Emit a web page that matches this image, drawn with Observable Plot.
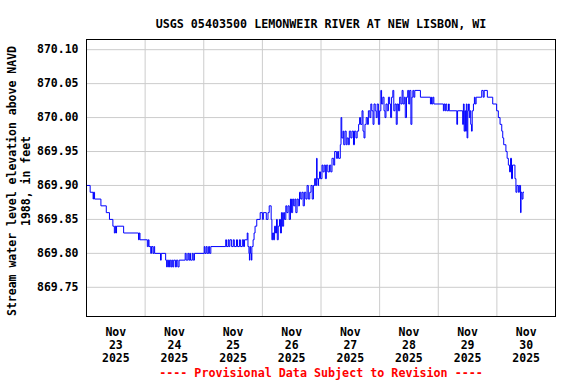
<!DOCTYPE html>
<html><head><meta charset="utf-8">
<script src="https://cdn.jsdelivr.net/npm/d3@7"></script>
<script src="https://cdn.jsdelivr.net/npm/@observablehq/plot@0.6"></script>
<style>body{margin:0;background:#fff}</style>
</head><body><div id="chart"></div>
<script>
const title = "USGS 05403500 LEMONWEIR RIVER AT NEW LISBON, WI";
const yLabel = "Stream water level elevation above NAVD\n1988, in feet";
const caption = "---- Provisional Data Subject to Revision ----";
const monthLabel = "Nov";
const yearLabel = "2025";
const dayLabels = ["23", "24", "25", "26", "27", "28", "29", "30"];
const startUTC = Date.UTC(2025, 10, 23);
const yTicks = [869.75, 869.80, 869.85, 869.90, 869.95, 870.00, 870.05, 870.10];
const yDomain = [869.707, 870.115];

// [hours since Nov 23 00:00, stage in feet]
const readings = [
[0,869.90],[1.5,869.89],[2.7,869.88],[2.9,869.89],[3.3,869.88],[5.9,869.87],[8.1,869.86],[9.4,869.85],
[10.8,869.84],[11.4,869.83],[11.8,869.84],[12.1,869.83],[12.3,869.84],[15.2,869.83],[21.3,869.82],[21.6,869.83],
[21.9,869.82],[24.9,869.81],[25.3,869.82],[25.6,869.81],[26.3,869.80],[26.6,869.81],[27.2,869.80],[27.6,869.81],
[27.9,869.80],[30.3,869.79],[30.6,869.80],[32.4,869.79],[32.8,869.78],[33.1,869.79],[33.6,869.78],[34.0,869.79],
[34.5,869.78],[34.9,869.79],[35.3,869.78],[35.7,869.79],[36.4,869.78],[36.8,869.79],[37.4,869.78],[37.9,869.79],
[40.4,869.80],[40.8,869.79],[41.5,869.80],[41.9,869.79],[42.3,869.80],[42.6,869.79],[43.3,869.80],[43.7,869.79],
[44.2,869.80],[48.2,869.81],[48.5,869.80],[49.0,869.81],[49.4,869.80],[50.0,869.81],[50.4,869.80],[50.9,869.81],
[57.0,869.82],[57.3,869.81],[58.0,869.82],[58.3,869.81],[58.7,869.82],[59.4,869.81],[60.1,869.82],[60.5,869.81],
[61.4,869.82],[61.8,869.81],[62.6,869.82],[63.0,869.81],[63.8,869.82],[64.3,869.81],[64.7,869.82],[65.8,869.83],
[66.1,869.81],[66.5,869.80],[66.7,869.79],[66.9,869.81],[67.2,869.80],[67.5,869.79],[67.7,869.81],[68.2,869.82],
[68.6,869.83],[69.0,869.84],[69.7,869.85],[71.1,869.86],[72.0,869.85],[72.4,869.86],[73.6,869.85],[74.3,869.86],
[74.8,869.87],[75.6,869.85],[75.9,869.82],[76.2,869.83],[76.6,869.82],[77.0,869.84],[77.4,869.83],[77.8,869.85],
[78.1,869.82],[78.5,869.84],[79.0,869.85],[79.4,869.83],[79.8,869.86],[80.2,869.84],[80.7,869.86],[81.1,869.85],
[81.6,869.87],[82.0,869.86],[82.5,869.87],[83.0,869.85],[83.5,869.88],[83.9,869.86],[84.4,869.88],[84.8,869.87],
[85.3,869.88],[85.7,869.86],[86.2,869.88],[86.7,869.87],[87.2,869.89],[87.7,869.88],[88.2,869.89],[88.7,869.87],
[89.2,869.89],[89.8,869.88],[90.3,869.90],[90.8,869.88],[91.4,869.89],[91.9,869.90],[92.4,869.88],[92.9,869.90],
[93.4,869.91],[93.8,869.90],[94.2,869.94],[94.4,869.91],[94.8,869.90],[95.0,869.91],[95.4,869.92],[95.8,869.91],
[96.4,869.93],[96.8,869.92],[97.3,869.93],[97.8,869.91],[98.2,869.93],[98.8,869.92],[99.5,869.93],[100.0,869.92],
[100.5,869.94],[101.2,869.93],[101.6,869.95],[102.3,869.94],[102.8,869.95],[103.2,869.94],[103.9,869.96],[104.2,870.00],
[104.5,869.97],[105.0,869.98],[105.3,869.96],[105.8,869.98],[106.3,869.96],[106.7,869.97],[107.2,869.96],[107.6,869.98],
[108.2,869.97],[108.7,869.98],[109.3,869.96],[109.7,869.98],[110.3,869.97],[110.8,869.98],[111.4,869.99],[111.8,870.00],
[112.2,869.99],[112.8,870.01],[113.2,869.98],[113.6,869.97],[114.0,869.99],[114.5,870.00],[115.0,869.99],[115.4,870.01],
[116.0,870.00],[116.4,870.02],[116.8,870.01],[117.3,869.99],[117.7,870.02],[118.2,870.01],[118.6,870.00],[119.0,870.02],
[119.5,869.99],[120.0,870.01],[120.5,870.04],[120.8,870.02],[121.3,870.03],[121.8,870.01],[122.2,870.00],[122.6,870.02],
[123.1,870.01],[123.6,870.03],[124.1,870.02],[124.5,870.00],[124.9,870.03],[125.4,870.04],[125.8,870.01],[126.3,870.02],
[126.8,869.99],[127.2,870.02],[127.7,870.01],[128.2,870.03],[128.7,870.02],[129.2,870.04],[129.6,870.02],[130.1,870.03],
[130.5,870.00],[131.0,870.03],[131.5,870.04],[131.9,870.02],[132.3,870.04],[132.8,869.99],[133.2,870.03],[133.6,870.04],
[134.0,870.03],[134.4,870.04],[136.7,870.03],[140.8,870.02],[141.2,870.03],[141.4,870.02],[141.8,870.03],[142.2,870.02],
[146.1,870.01],[146.4,870.02],[146.8,870.01],[147.1,870.02],[147.5,870.01],[148.2,870.02],[148.5,870.01],[151.6,869.99],
[151.9,870.01],[154.0,869.99],[154.3,870.02],[154.6,869.98],[154.9,870.01],[155.2,869.98],[155.5,870.02],[155.8,869.97],
[156.1,870.01],[156.4,870.02],[156.7,870.00],[157.0,870.01],[157.3,869.99],[157.6,869.98],[157.9,870.01],[158.4,870.02],
[158.8,870.03],[159.1,870.02],[159.5,870.03],[161.8,870.04],[162.4,870.03],[162.8,870.04],[164.1,870.03],[166.3,870.02],
[167.9,870.01],[168.6,870.00],[169.3,869.99],[170.0,869.98],[170.4,869.97],[170.8,869.96],[171.7,869.95],[172.2,869.94],
[172.7,869.93],[173.2,869.92],[173.6,869.94],[174.0,869.91],[174.4,869.93],[175.4,869.91],[175.8,869.89],[176.2,869.90],
[176.8,869.89],[177.2,869.90],[177.7,869.86],[177.9,869.89],[178.3,869.88],[178.7,869.89],[179.1,869.89]
];

const HOUR = 3600e3, DAY = 24 * HOUR;
const data = readings.map(([h, v]) => ({t: new Date(startUTC + h * HOUR), v}));
const dayStarts = d3.range(1, 8).map(i => new Date(startUTC + i * DAY));
const noonTicks = dayLabels.map((_, i) => new Date(startUTC + i * DAY + 12 * HOUR));
const xDomain = [new Date(startUTC), new Date(startUTC + 8 * DAY)];
const font = "DejaVu Sans Mono";

const chart = Plot.plot({
  width: 576, height: 384,
  marginLeft: 86, marginRight: 21, marginTop: 39, marginBottom: 68,
  style: {fontFamily: font, fontSize: "11.5px", fontWeight: "bold", background: "white", color: "black"},
  x: {type: "utc", domain: xDomain},
  y: {domain: yDomain},
  marks: [
    Plot.gridX(dayStarts, {stroke: "#cccccc", strokeOpacity: 1}),
    Plot.gridY(yTicks, {stroke: "#cccccc", strokeOpacity: 1}),
    Plot.line(data, {x: "t", y: "v", stroke: "#0000ff", strokeWidth: 1, curve: "step-after"}),
    Plot.frame({stroke: "black"}),
    Plot.axisY(yTicks, {tickSize: 0, tickPadding: 8, tickFormat: d3.format(".2f"), label: null, fontSize: 11.5}),
    Plot.axisX(noonTicks, {tickSize: 0, tickPadding: 10, label: null, fontSize: 11.5, lineHeight: 1.13,
      tickFormat: (d, i) => `${monthLabel}\n${dayLabels[i]}\n${yearLabel}`}),
    Plot.text([title], {frameAnchor: "top", dy: -20, fontSize: 11.7, fill: "black"}),
    Plot.text([yLabel], {frameAnchor: "left", textAnchor: "middle", lineAnchor: "middle", rotate: -90, dx: -68, dy: 3, fontSize: 11.5, lineHeight: 1.22, fill: "black"}),
    Plot.text([caption], {frameAnchor: "bottom", dy: 60, fontSize: 11.7, fill: "#ff0000"})
  ]
});
document.getElementById("chart").appendChild(chart);
</script>
</body></html>
